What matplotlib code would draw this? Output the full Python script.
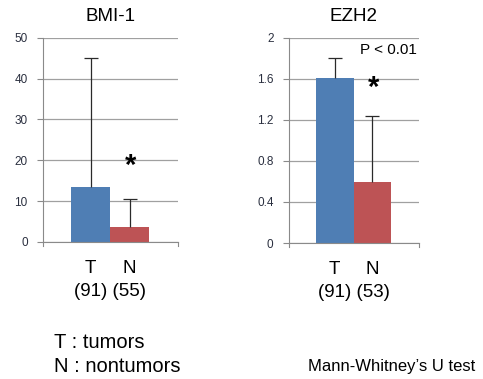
import matplotlib
matplotlib.use("Agg")
import matplotlib.pyplot as plt

plt.rcParams['font.family'] = ['Liberation Sans', 'DejaVu Sans']

groups = ["T", "N"]
bmi_values = [13.5, 3.75]
bmi_err_top = [45.0, 10.5]
bmi_n = ["(91)", "(55)"]
ezh_values = [1.61, 0.59]
ezh_err_top = [1.80, 1.24]
ezh_n = ["(91)", "(53)"]
bmi_ticks = [0, 10, 20, 30, 40, 50]
ezh_ticks = [0, 0.4, 0.8, 1.2, 1.6, 2]
ezh_ticklabels = ["0", "0.4", "0.8", "1.2", "1.6", "2"]
colors = ["#4F7EB4", "#BD5355"]

fig = plt.figure(figsize=(4.83, 3.79), dpi=100)

def panel(rect, title, values, err_top, ticks, ticklabels, ylim, counts, star_y):
    ax = fig.add_axes(rect)
    x = [0, 1]
    ax.bar(x, values, width=1.0, color=colors, zorder=2)
    upper = [e - v for e, v in zip(err_top, values)]
    _, caps, _ = ax.errorbar(x, values, yerr=[[0, 0], upper], fmt='none',
                             ecolor='#2a2a2a', elinewidth=0.9, capsize=5,
                             capthick=0.9, zorder=3)
    if len(caps) == 2:
        caps[0].set_visible(False)
    ax.set_ylim(*ylim)
    ax.set_xlim(-1.22, 2.24)
    ax.set_yticks(ticks)
    ax.set_yticklabels(ticklabels, fontsize=8.5, color='#2a2f3f')
    ax.yaxis.grid(True, color='#a0a0a0', linewidth=0.9, zorder=0)
    ax.set_axisbelow(True)
    ax.set_xticks([])
    for s in ['top', 'right']:
        ax.spines[s].set_visible(False)
    ax.spines['left'].set_color('#8a8a8a')
    ax.spines['bottom'].set_color('#8a8a8a')
    ax.tick_params(axis='y', length=4, color='#8a8a8a', pad=7)
    for xv in ax.get_xlim():
        ax.plot([xv, xv], [0, -0.02 * (ylim[1] - ylim[0])], color='#8a8a8a',
                lw=0.8, clip_on=False)
    ax.set_title(title, fontsize=13.5, pad=12)
    ax.text(1.03, star_y, "*", fontsize=21, fontweight='bold', ha='center',
            va='center', zorder=4)
    for xi, g in zip(x, groups):
        ax.annotate(g, (xi, 0), xytext=(0, -19), textcoords='offset points',
                    ha='center', va='center', fontsize=13.5, annotation_clip=False)
    ax.annotate(counts[0] + " " + counts[1], (0.5, 0), xytext=(0, -35.5),
                textcoords='offset points', ha='center', va='center',
                fontsize=13.5, annotation_clip=False)
    return ax

ax1 = panel([0.089, 0.3615, 0.2795, 0.539], "BMI-1", bmi_values, bmi_err_top,
            bmi_ticks, [str(t) for t in bmi_ticks], (0, 50), bmi_n, 18.5)
ax2 = panel([0.598, 0.3588, 0.2695, 0.5417], "EZH2", ezh_values, ezh_err_top,
            ezh_ticks, ezh_ticklabels, (0, 2), ezh_n, 1.51)
ax2.text(0.98, 0.94, "P < 0.01", transform=ax2.transAxes, ha='right', va='center',
         fontsize=11)

fig.text(54 / 483, 1 - 342 / 379, "T : tumors", fontsize=14.5, va='center', ha='left')
fig.text(54 / 483, 1 - 367 / 379, "N : nontumors", fontsize=14.5, va='center', ha='left')
fig.text(475 / 483, 1 - 367 / 379, "Mann-Whitney\u2019s U test", fontsize=12,
         va='center', ha='right')

fig.savefig("out.png", dpi=100)
